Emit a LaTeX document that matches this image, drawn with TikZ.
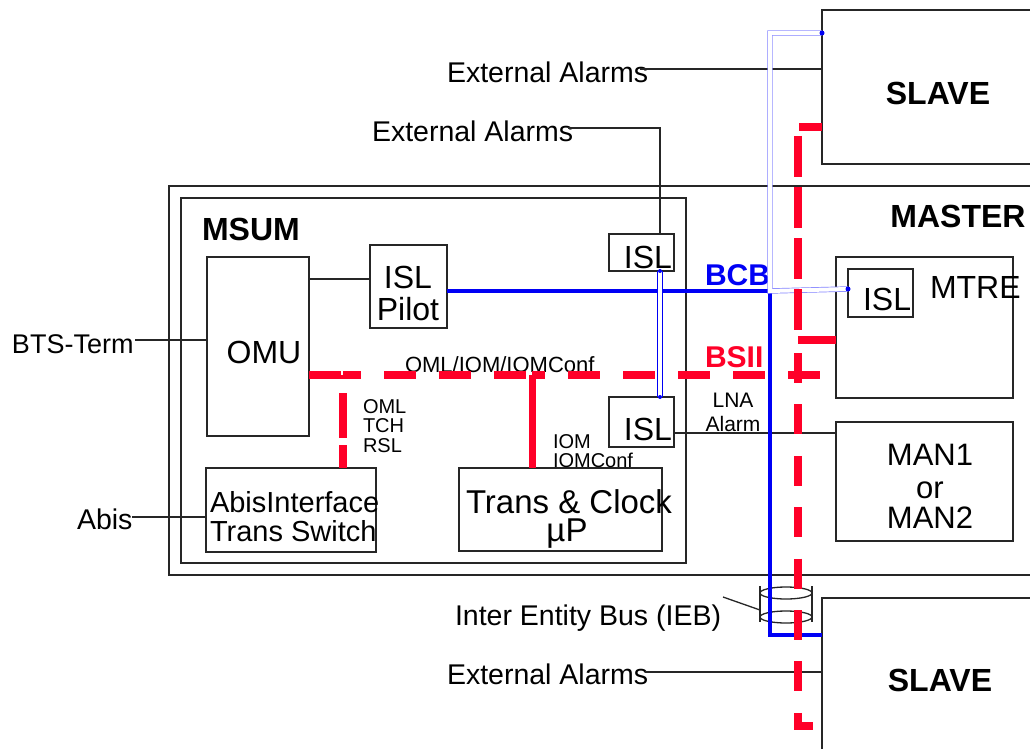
\documentclass[tikz,border=0pt]{standalone}
\usepackage{fontspec}
\setmainfont{Liberation Sans}
\usetikzlibrary{calc}
\definecolor{bred}{RGB}{255,0,40}
\definecolor{bblue}{RGB}{0,0,245}
\definecolor{lblue}{RGB}{130,130,255}
\tikzset{
  box/.style={draw=black!85, line width=2pt, inner sep=0pt, outer sep=0pt, rectangle},
  conn/.style={draw=black!85, line width=1.6pt},
  t/.style={inner sep=0pt, outer sep=0pt},
  f20/.style={font=\fontsize{20}{22}\selectfont},
  f21/.style={font=\fontsize{21}{23}\selectfont},
  f22/.style={font=\fontsize{22}{24}\selectfont},
  f27/.style={font=\fontsize{27}{29}\selectfont},
  f28/.style={font=\fontsize{28.5}{30}\selectfont},
  f29/.style={font=\fontsize{29}{31}\selectfont},
  f31/.style={font=\fontsize{31}{33}\selectfont},
  f32/.style={font=\fontsize{32}{34}\selectfont},
  f33/.style={font=\fontsize{33}{35}\selectfont},
  b30/.style={font=\fontsize{30}{32}\selectfont\bfseries},
  b32/.style={font=\fontsize{32}{34}\selectfont\bfseries},
  redbus/.style={draw=bred, line width=7.5pt},
  bluebus/.style={draw=bblue, line width=4.5pt},
  dbl/.style={draw=bblue, line width=0.8pt, double=white, double distance=3.5pt},
  ldbl/.style={draw=lblue, line width=0.7pt, double=white, double distance=4pt},
}
\newcommand\mybx[5]{\node[box, minimum width={(#4)-(#2)}, minimum height={(#5)-(#3)}] (#1) at ({((#2)+(#4))/2},{((#3)+(#5))/2}) {};}
\begin{document}
\begin{tikzpicture}[x=1pt,y=-1pt]
\useasboundingbox (0,0) rectangle (1030,749);
\fill[white] (0,0) rectangle (1030,749);
% boxes
\mybx{slaveT}{822}{10}{1060}{164}
\mybx{master}{169}{186}{1060}{575}
\mybx{msum}{181}{198}{686}{563}
\mybx{omu}{207}{257}{309}{436}
\mybx{islp}{370}{245}{447}{328}
\mybx{islT}{609}{234}{674}{271}
\mybx{islB}{609}{397}{674}{447}
\mybx{abisb}{206}{468}{376}{552}
\mybx{trans}{459}{468}{662}{551}
\mybx{mtre}{836}{257}{1013}{398}
\mybx{mtreisl}{848}{269}{913}{317}
\mybx{man}{836}{422}{1013}{541}
\mybx{slaveB}{822}{598}{1060}{770}
% texts
\node[t,b32,anchor=base] (slT) at (938,105) {SLAVE};
\node[t,b32,anchor=base] (slB) at (940,691) {SLAVE};
\node[t,b32,anchor=base] (mast) at (958,227) {MASTER};
\node[t,b32,anchor=base west] (msuml) at (202,240) {MSUM};
\node[t,f28,anchor=base west] (ea1) at (447,83) {External Alarms};
\node[t,f28,anchor=base west] (ea2) at (372,141) {External Alarms};
\node[t,f28,anchor=base west] (ea3) at (447,684) {External Alarms};
\node[t,f27,anchor=base west] (bts) at (12,353) {BTS-Term};
\node[t,f28,anchor=base west] (abis) at (77,529) {Abis};
\node[t,f28,anchor=base west] (ieb) at (455,625) {Inter Entity Bus (IEB)};
\node[t,f32,anchor=base] (islp1) at (408,288) {ISL};
\node[t,f32,anchor=base] (islp2) at (408,320) {Pilot};
\node[t,f32,anchor=base] (omul) at (264,363) {OMU};
\node[t,f32,anchor=base] (islTl) at (648,268) {ISL};
\node[t,f32,anchor=base] (islBl) at (648,440) {ISL};
\node[t,f32,anchor=base west] (mtrel) at (930,298) {MTRE};
\node[t,f32,anchor=base west] (mislL) at (863,310) {ISL};
\node[t,f31,anchor=base] (man1) at (930,465) {MAN1};
\node[t,f31,anchor=base] (man2) at (930,498) {or};
\node[t,f31,anchor=base] (man3) at (930,528) {MAN2};
\node[t,f29,anchor=base west] (ab1) at (210,512) {AbisInterface};
\node[t,f29,anchor=base west] (ab2) at (210,541) {Trans Switch};
\node[t,f33,anchor=base] (tc1) at (569,513) {Trans \& Clock};
\node[t,f33,anchor=base] (tc2) at (567,541) {µP};
\node[t,f22,anchor=base west] (omlbus) at (405,372) {OML/IOM/IOMConf};
\node[t,f20,anchor=base west] (o1) at (363,413) {OML};
\node[t,f20,anchor=base west] (o2) at (363,432) {TCH};
\node[t,f20,anchor=base west] (o3) at (363,452) {RSL};
\node[t,f20,anchor=base west] (i1) at (553,448) {IOM};
\node[t,f20,anchor=base west] (i2) at (553,467) {IOMConf};
\node[t,f21,anchor=base] (lna1) at (733,407) {LNA};
\node[t,f21,anchor=base] (lna2) at (733,431) {Alarm};
\node[t,b30,anchor=base west,text=bblue] (bcb) at (705,285) {BCB};
\node[t,b30,anchor=base west,text=bred] (bsii) at (705,367) {BSII};
% black connectors
\coordinate (ea1e) at (640,69);
\draw[conn] (ea1e) -- (ea1e -| slaveT.west);
\coordinate (ea2e) at (568,128);
\coordinate (ea2c) at (660,128);
\draw[conn] (ea2e) -- (ea2c) -- (ea2c |- islT.north);
\coordinate (ea3e) at (645,672);
\draw[conn] (ea3e) -- (ea3e -| slaveB.west);
\coordinate (btse) at (135,340);
\draw[conn] (btse) -- (btse -| omu.west);
\coordinate (omup) at (309,279);
\draw[conn] (omup) -- (omup -| islp.west);
\coordinate (abise) at (132,517);
\draw[conn] (abise) -- (abise -| abisb.west);
\coordinate (lnas) at (674,433);
\draw[conn] (lnas) -- (lnas -| man.west);
% IEB cylinder
\draw[conn, line width=1.3pt] (786,593) ellipse [x radius=26pt, y radius=6pt];
\draw[conn, line width=1.3pt] (786,617) ellipse [x radius=26pt, y radius=6pt];
\coordinate (cylL1) at (760,586); \coordinate (cylL2) at (760,622);
\coordinate (cylR1) at (812,586); \coordinate (cylR2) at (812,622);
\draw[conn, line width=1.3pt] (cylL1) -- (cylL2);
\draw[conn, line width=1.3pt] (cylR1) -- (cylR2);
\coordinate (iebp) at (723,597);
\draw[conn, line width=1.3pt] (iebp) -- (760,610);
% blue buses
\coordinate (b1) at (447,291);
\coordinate (b2) at (770,291);
\coordinate (b3) at (770,635);
\draw[bluebus] (b1) -- (b2) -- (b3) -- (b3 -| slaveB.west);
\coordinate (d1) at (660,271);
\coordinate (d2) at (660,397);
\draw[dbl] (d1) -- (d2);
\fill[bblue] (d1) circle (2pt); \fill[bblue] (d2) circle (2pt);
\coordinate (l1) at (822,33);
\coordinate (l2) at (770,33);
\coordinate (l3) at (848,289);
\draw[ldbl] (l1) -- (l2) -- (b2) -- (l3);
\fill[bblue] (l1) circle (2.5pt); \fill[bblue] (l3) circle (2.5pt);
% red buses
\coordinate (omuR) at (309,375);
\coordinate (j1) at (343,375);
\coordinate (j2) at (532,375);
\coordinate (omlE) at (828,375);
\draw[redbus, dash pattern=on 32pt off 23pt] (omuR) -- (j1);
\draw[redbus, dash pattern=on 32pt off 23pt, dash phase=14pt] (j1) -- (j2);
\draw[redbus, dash pattern=on 32pt off 23pt, dash phase=19pt] (j2) -- (omlE);
\draw[redbus, dash pattern=on 4pt off 14pt on 45pt off 7pt on 40pt off 0pt] (j1) -- (j1 |- abisb.north);
\draw[redbus, line width=7pt] (j2) -- (j2 |- trans.north);
\coordinate (ru1) at (822,127);
\coordinate (ru2) at (798,127);
\coordinate (ru3) at (798,340);
\draw[redbus, dash pattern=on 41pt off 10pt, dash phase=18pt] (ru1) -- (ru2) -- (ru3) -- (ru3 -| mtre.west);
\coordinate (rl1) at (798,353);
\coordinate (rl2) at (798,726);
\coordinate (rl3) at (813,726);
\draw[redbus, dash pattern=on 30pt off 21.4pt] (rl1) -- (rl2) -- (rl3);
\end{tikzpicture}
\end{document}
